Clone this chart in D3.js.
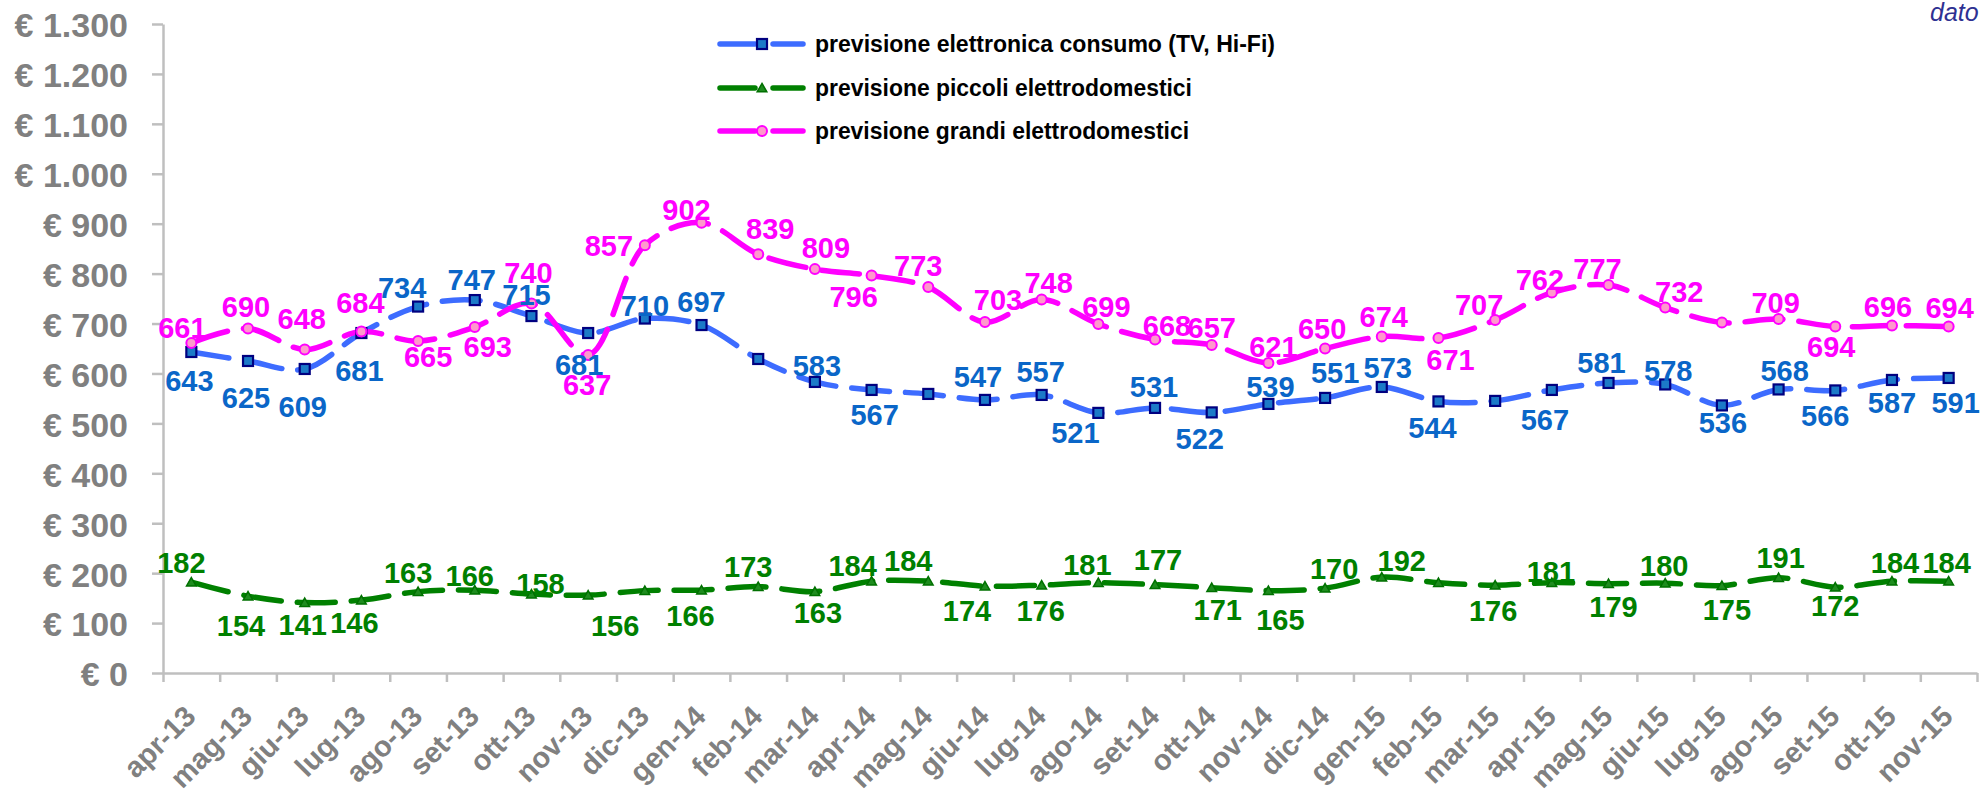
<!DOCTYPE html>
<html>
<head>
<meta charset="utf-8">
<script src="https://cdn.jsdelivr.net/npm/d3@7"></script>
<style>
  html, body { margin: 0; padding: 0; background: #fff; overflow: hidden; }
  svg { display: block; font-family: "Liberation Sans", Arial, sans-serif; }
</style>
</head>
<body>
<svg id="chart" width="1981" height="793"></svg>
<script>
// ---------- data ----------
const months = ["apr-13","mag-13","giu-13","lug-13","ago-13","set-13","ott-13","nov-13","dic-13","gen-14","feb-14","mar-14","apr-14","mag-14","giu-14","lug-14","ago-14","set-14","ott-14","nov-14","dic-14","gen-15","feb-15","mar-15","apr-15","mag-15","giu-15","lug-15","ago-15","set-15","ott-15","nov-15"];

const elettronica = [643,625,609,681,734,747,715,681,710,697,629,583,567,559,547,557,521,531,522,539,551,573,544,545,567,581,578,536,568,566,587,591];
const piccoli     = [182,154,141,146,163,166,158,156,165,166,173,163,184,184,174,176,181,177,171,165,170,192,181,176,181,179,180,175,191,172,184,184];
const grandi      = [661,690,648,684,665,693,740,637,857,902,839,809,796,773,703,748,699,668,657,621,650,674,671,707,762,777,732,702,709,694,696,694];

const seriesNames = ["previsione elettronica consumo (TV, Hi-Fi)", "previsione piccoli elettrodomestici", "previsione grandi elettrodomestici"];
const yTicks = [0,100,200,300,400,500,600,700,800,900,1000,1100,1200,1300];

// label placement (offset of label centre from its point; null = label not shown)
const offElettronica = [[-2,29],[-2,37],[-2,38],[-2,38],[-16,-19],[-3,-21],[-5,-21],[-9,32],[0,-13],[0,-23],null,[2,-16],[3,25],null,[-7,-23],[-1,-23],[-23,20],[-1,-21],[-12,26],[2,-17],[10,-25],[6,-19],[-6,26],null,[-7,30],[-7,-20],[3,-14],[1,17],[6,-19],[-10,25],[0,23],[7,25]];
const offPiccoli = [[-10,-20],[-7,29],[-2,22],[-7,22],[-10,-19],[-5,-15],[9,-11],[27,30],null,[-11,25],[-10,-20],[3,21],[-19,-16],[-20,-21],[-18,24],[-1,25],[-11,-18],[3,-25],[6,22],[12,29],[9,-20],[20,-17],null,[-2,25],[-1,-11],[5,23],[-1,-18],[5,24],[2,-20],[0,18],[3,-19],[-2,-19]];
const offGrandi = [[-9,-15],[-2,-22],[-3,-31],[-1,-29],[10,16],[13,20],[-3,-31],[-1,30],[-36,0],[-15,-13],[12,-26],[11,-22],[-18,21],[-10,-22],[13,-22],[7,-17],[8,-17],[12,-14],[0,-17],[5,-16],[-3,-20],[2,-20],[12,22],[-16,-15],[-12,-13],[-11,-17],[14,-16],null,[-3,-16],[-4,20],[-4,-19],[1,-19]];

// ---------- setup ----------
const svg = d3.select("#chart");
const X0 = 163, X1 = 1977, Y0 = 673, Y1 = 24;

const x = d3.scaleBand().domain(months).range([X0, X1]).padding(0);
const xc = m => x(m) + x.bandwidth() / 2;
const xi = d3.scaleLinear().domain([0, months.length]).range([X0, X1]);
const y = d3.scaleLinear().domain([0, 1300]).range([Y0, Y1]);

const itLocale = d3.formatLocale({decimal: ",", thousands: ".", grouping: [3], currency: ["€ ", ""]});
const fmtEuro = itLocale.format("$,.0f");

const axisColor = "#BFBFBF";
const tickTextColor = "#808080";

// y axis
const gy = svg.append("g").attr("transform", `translate(${X0},0)`)
  .call(d3.axisLeft(y).tickValues(yTicks).tickSize(11).tickSizeOuter(0).tickPadding(24).tickFormat(fmtEuro));
gy.select(".domain").attr("stroke", axisColor).attr("stroke-width", 2.5);
gy.selectAll(".tick line").attr("stroke", axisColor).attr("stroke-width", 2.5);
gy.selectAll(".tick text").attr("fill", tickTextColor).attr("font-size", 34).attr("font-weight", "bold")
  .attr("font-family", "'Liberation Sans', Arial, sans-serif").attr("dy", "0.38em");

// x axis ticks at band boundaries
const gxt = svg.append("g").attr("transform", `translate(0,${Y0})`)
  .call(d3.axisBottom(xi).tickValues(d3.range(0, months.length + 1)).tickSize(9).tickSizeOuter(0).tickFormat(""));
gxt.select(".domain").attr("stroke", axisColor).attr("stroke-width", 2.5);
gxt.selectAll(".tick line").attr("stroke", axisColor).attr("stroke-width", 2.5);

// x labels
const gx = svg.append("g").attr("transform", `translate(0,${Y0})`)
  .call(d3.axisBottom(x).tickSize(0).tickSizeOuter(0));
gx.select(".domain").remove();
gx.selectAll(".tick text")
  .attr("fill", tickTextColor).attr("font-size", 29).attr("font-weight", "bold")
  .attr("font-family", "'Liberation Sans', Arial, sans-serif")
  .attr("text-anchor", "end").attr("x", 0).attr("y", 0).attr("dy", 0)
  .attr("transform", "translate(6,45) rotate(-45)");

// ---------- series ----------
const series = [
  {name: seriesNames[0], values: elettronica, offs: offElettronica, line: "#3D6CFF", label: "#0A66C8", marker: "square"},
  {name: seriesNames[1], values: piccoli,     offs: offPiccoli,     line: "#008000", label: "#008000", marker: "triangle"},
  {name: seriesNames[2], values: grandi,      offs: offGrandi,      line: "#FF00FF", label: "#FF00FF", marker: "circle"}
];

const lineGen = d3.line().x(d => xc(d.m)).y(d => y(d.v)).curve(d3.curveCatmullRom.alpha(0.5));
const dash = "38,16";

function drawMarker(g, type, cx, cy) {
  if (type === "square") {
    g.append("rect").attr("x", cx - 5).attr("y", cy - 5).attr("width", 10).attr("height", 10)
      .attr("fill", "#1C7AC8").attr("stroke", "#000080").attr("stroke-width", 2.2);
  } else if (type === "triangle") {
    g.append("path").attr("d", d3.symbol().type(d3.symbolTriangle).size(40)())
      .attr("transform", `translate(${cx},${cy + 1})`)
      .attr("fill", "#1E8C1E").attr("stroke", "#007000").attr("stroke-width", 1.5);
  } else {
    g.append("circle").attr("cx", cx).attr("cy", cy).attr("r", 5)
      .attr("fill", "#FF99CC").attr("stroke", "#FF00FF").attr("stroke-width", 2);
  }
}

// lines
series.forEach(s => {
  const pts = months.map((m, i) => ({m, v: s.values[i]}));
  svg.append("path").datum(pts).attr("d", lineGen)
    .attr("fill", "none").attr("stroke", s.line).attr("stroke-width", 5.5)
    .attr("stroke-linecap", "round").attr("stroke-dasharray", dash);
});
// markers
series.forEach(s => {
  const g = svg.append("g");
  months.forEach((m, i) => drawMarker(g, s.marker, xc(m), y(s.values[i])));
});
// labels
series.forEach(s => {
  const g = svg.append("g");
  months.forEach((m, i) => {
    const o = s.offs[i];
    if (!o) return;
    g.append("text").attr("x", xc(m) + o[0]).attr("y", y(s.values[i]) + o[1]).attr("dy", "0.36em")
      .attr("text-anchor", "middle").attr("font-size", 29).attr("font-weight", "bold")
      .attr("fill", s.label).text(s.values[i]);
  });
});

// ---------- legend ----------
const legendRows = [44, 88, 131];
const legendWidths = [460, 377, 374];
series.forEach((s, i) => {
  const ly = legendRows[i];
  const g = svg.append("g");
  g.append("line").attr("x1", 720).attr("x2", 755).attr("y1", ly).attr("y2", ly)
    .attr("stroke", s.line).attr("stroke-width", 5.5).attr("stroke-linecap", "round");
  g.append("line").attr("x1", 773).attr("x2", 803).attr("y1", ly).attr("y2", ly)
    .attr("stroke", s.line).attr("stroke-width", 5.5).attr("stroke-linecap", "round");
  drawMarker(g, s.marker, 762, ly);
  g.append("text").attr("x", 815).attr("y", ly).attr("dy", "0.36em")
    .attr("font-size", 23).attr("font-weight", "bold").attr("fill", "#000")
    .attr("textLength", legendWidths[i]).attr("lengthAdjust", "spacingAndGlyphs")
    .text(s.name);
});

// corner note
svg.append("text").attr("x", 1930).attr("y", 21).attr("font-size", 25).attr("font-style", "italic")
  .attr("fill", "#2E3192").text("dato");
</script>
</body>
</html>
